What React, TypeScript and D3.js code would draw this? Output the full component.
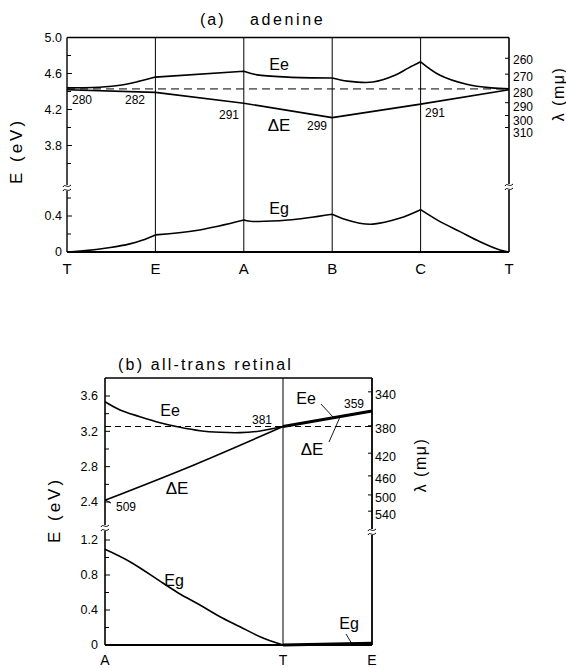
import React from "react";
import * as d3 from "d3";

// ---------- (a) adenine ----------
const topCats = ["T", "E", "A", "B", "C", "T"];
const topYTicksUpper = [5.0, 4.6, 4.2, 3.8];
const topYMinorUpper = [4.8, 4.4, 4.0, 3.6];
const topYTicksLower = [0.4, 0];
const topYMinorLower = [0.2, 0.6];
const topLambdaTicks = [260, 270, 280, 290, 300, 310];
const topDashedLambda = 280;
// segments between symmetry points: [x (category units), E (eV)]
const topEe: [number, number][][] = [
  [[0, 4.44], [0.4, 4.45], [0.6, 4.47], [0.8, 4.51], [1, 4.56]],
  [[1, 4.56], [2, 4.625]],
  [[2, 4.625], [2.15, 4.585], [2.5, 4.56], [3, 4.55]],
  [[3, 4.55], [3.17, 4.515], [3.46, 4.505], [3.71, 4.58], [3.86, 4.66], [4, 4.73]],
  [[4, 4.73], [4.22, 4.58], [4.52, 4.48], [4.8, 4.44], [5, 4.43]],
];
const topDE: [number, number][][] = [
  [[0, 4.42], [1, 4.39]],
  [[1, 4.39], [2, 4.27]],
  [[2, 4.27], [3, 4.11]],
  [[3, 4.11], [4, 4.26]],
  [[4, 4.26], [5, 4.42]],
];
const topEg: [number, number][][] = [
  [[0, 0], [0.15, 0.01], [0.49, 0.05], [0.71, 0.09], [0.85, 0.13], [1, 0.19]],
  [[1, 0.19], [1.5, 0.245], [2, 0.355]],
  [[2, 0.355], [2.07, 0.342], [2.5, 0.355], [3, 0.42]],
  [[3, 0.42], [3.15, 0.36], [3.31, 0.32], [3.46, 0.31], [3.76, 0.374], [4, 0.47]],
  [[4, 0.47], [4.22, 0.337], [4.446, 0.226], [4.672, 0.114], [4.898, 0.022], [5, 0]],
];
const topLabels = ["280", "282", "291", "299", "291"];

// ---------- (b) all-trans retinal ----------
const botCats = ["A", "T", "E"];
const botCatPos = [0, 2, 3];
const botYTicksUpper = [3.6, 3.2, 2.8, 2.4];
const botYMinorUpper = [3.4, 3.0, 2.6];
const botYTicksLower = [1.2, 0.8, 0.4, 0];
const botYMinorLower = [1.0, 0.6, 0.2];
const botLambdaTicks = [340, 380, 420, 460, 500, 540];
const botDashedLambda = 381;
const botEe: [number, number][][] = [
  [
    [0, 3.535], [0.169, 3.442], [0.393, 3.366], [0.618, 3.298], [0.843, 3.246],
    [1.067, 3.207], [1.292, 3.189], [1.517, 3.185], [1.742, 3.204], [2, 3.255],
  ],
  [[2, 3.255], [3, 3.43]],
];
const botDE: [number, number][][] = [
  [[0, 2.42], [1, 2.82], [2, 3.255]],
  [[2, 3.255], [3, 3.43]],
];
const botEg: [number, number][][] = [
  [
    [0, 1.094], [0.28, 0.952], [0.65, 0.709], [0.843, 0.583], [1.067, 0.457],
    [1.292, 0.323], [1.517, 0.209], [1.742, 0.095], [2, 0],
  ],
  [[2, 0], [3, 0.02]],
];
const botLabels = ["509", "381", "359"];

const FONT = "'Liberation Sans', Arial, sans-serif";

function segPath(segs: [number, number][][], x: (v: number) => number, y: (v: number) => number) {
  const line = d3
    .line<[number, number]>()
    .x((d) => x(d[0]))
    .y((d) => y(d[1]))
    .curve(d3.curveCatmullRom.alpha(0.5));
  return segs.map((s) => line(s)).join("");
}

function Break({ x, y }: { x: number; y: number }) {
  const w = (dy: number) =>
    `M${x - 4},${y + dy + 1} C${x - 2},${y + dy - 3} ${x},${y + dy + 3} ${x + 4},${y + dy - 1}`;
  return (
    <g>
      <rect x={x - 4} y={y - 3} width={8} height={6} fill="white" />
      <path d={w(-2)} fill="none" stroke="black" strokeWidth={1} />
      <path d={w(2)} fill="none" stroke="black" strokeWidth={1} />
    </g>
  );
}

export default function App() {
  // ---- top scales ----
  const tx = d3.scaleLinear().domain([0, 5]).range([67, 509]);
  const tyU = d3.scaleLinear().domain([5.0, 3.8]).range([37.5, 145.5]);
  const tyL = d3.scaleLinear().domain([0, 0.4]).range([252, 216]);
  const tTop = 37.5;
  const tBot = 252;
  const tL = tx(0);
  const tR = tx(5);

  // ---- bottom scales ----
  const bx = d3.scaleLinear().domain([0, 3]).range([105, 372]);
  const byU = d3.scaleLinear().domain([3.6, 2.4]).range([396, 502]);
  const byL = d3.scaleLinear().domain([0, 1.2]).range([645, 540]);
  const bTop = 378;
  const bBot = 645;
  const bL = bx(0);
  const bR = bx(3);

  const tLam = (l: number) => tyU(1240 / l);
  const bLam = (l: number) => byU(1240 / l);

  return (
    <svg
      width={566}
      height={668}
      style={{ position: "absolute", left: 0, top: 0, background: "white" }}
      fontFamily={FONT}
    >
      {/* ================= (a) adenine ================= */}
      <text x={200} y={25} fontSize={16} letterSpacing={2}>(a)</text>
      <text x={250} y={25} fontSize={16} letterSpacing={2.6}>adenine</text>
      {[1, 2, 3, 4].map((i) => (
        <line key={i} x1={tx(i)} x2={tx(i)} y1={tTop} y2={tBot} stroke="black" strokeWidth={1} />
      ))}
      <line x1={tL} x2={tR} y1={tTop} y2={tTop} stroke="black" strokeWidth={1.6} />
      <line x1={tL} x2={tR} y1={tBot} y2={tBot} stroke="black" strokeWidth={2} />
      <line x1={tL} x2={tL} y1={tTop} y2={tBot} stroke="black" strokeWidth={1.4} />
      <line x1={tR} x2={tR} y1={tTop} y2={tBot} stroke="black" strokeWidth={1.6} />
      {topYTicksUpper.map((v) => (
        <g key={"tu" + v}>
          <line x1={tL} x2={tL + 5} y1={tyU(v)} y2={tyU(v)} stroke="black" />
          <text x={62} y={tyU(v)} dy="0.35em" fontSize={12.5} textAnchor="end">
            {v.toFixed(1)}
          </text>
        </g>
      ))}
      {topYMinorUpper.map((v) => (
        <line key={"tmu" + v} x1={tL} x2={tL + 4} y1={tyU(v)} y2={tyU(v)} stroke="black" />
      ))}
      {topYTicksLower.map((v) => (
        <g key={"tl" + v}>
          <line x1={tL} x2={tL + 5} y1={tyL(v)} y2={tyL(v)} stroke="black" />
          <text x={62} y={tyL(v)} dy="0.35em" fontSize={12.5} textAnchor="end">
            {v === 0 ? "0" : v.toFixed(1)}
          </text>
        </g>
      ))}
      {topYMinorLower.map((v) => (
        <line key={"tml" + v} x1={tL} x2={tL + 4} y1={tyL(v)} y2={tyL(v)} stroke="black" />
      ))}
      {topLambdaTicks.map((l) => (
        <g key={"tlam" + l}>
          <line x1={tR - 4} x2={tR} y1={tLam(l)} y2={tLam(l)} stroke="black" />
          <text x={513} y={tLam(l) + 2 + (l - 260) * 0.07} dy="0.35em" fontSize={12}>
            {l}
          </text>
        </g>
      ))}
      <Break x={tL} y={188} />
      <Break x={tR} y={187} />
      <text transform="translate(22,151) rotate(-90)" fontSize={17} textAnchor="middle" letterSpacing={3}>
        E (eV)
      </text>
      <text transform="translate(564,94) rotate(-90)" fontSize={16} textAnchor="middle" letterSpacing={1.5}>
        λ (mμ)
      </text>
      {topCats.map((c, i) => (
        <text key={"tc" + i} x={tx(i)} y={274} fontSize={15} textAnchor="middle">
          {c}
        </text>
      ))}
      <line
        x1={tL}
        x2={tR}
        y1={tLam(topDashedLambda)}
        y2={tLam(topDashedLambda)}
        stroke="black"
        strokeWidth={1}
        strokeDasharray="8,5"
      />
      <path d={segPath(topEe, tx, tyU)} fill="none" stroke="black" strokeWidth={1.6} />
      <path d={segPath(topDE, tx, tyU)} fill="none" stroke="black" strokeWidth={1.6} />
      <path d={segPath(topEg, tx, tyL)} fill="none" stroke="black" strokeWidth={1.6} />
      <text x={279} y={70} fontSize={16} textAnchor="middle">Ee</text>
      <text x={279} y={131} fontSize={17} textAnchor="middle">ΔE</text>
      <text x={279} y={214} fontSize={16} textAnchor="middle">Eg</text>
      <text x={82} y={104} fontSize={12} textAnchor="middle">{topLabels[0]}</text>
      <text x={135} y={104} fontSize={12} textAnchor="middle">{topLabels[1]}</text>
      <text x={229} y={119} fontSize={12} textAnchor="middle">{topLabels[2]}</text>
      <text x={317} y={130} fontSize={12} textAnchor="middle">{topLabels[3]}</text>
      <text x={435} y={117} fontSize={12} textAnchor="middle">{topLabels[4]}</text>

      {/* ================= (b) all-trans retinal ================= */}
      <text x={118} y={370} fontSize={16} letterSpacing={2.2}>
        (b) all-trans retinal
      </text>
      <line x1={bx(2)} x2={bx(2)} y1={bTop} y2={bBot} stroke="black" strokeWidth={1} />
      <line x1={bL} x2={bR} y1={bTop} y2={bTop} stroke="black" strokeWidth={1.4} />
      <line x1={bL} x2={bR} y1={bBot} y2={bBot} stroke="black" strokeWidth={2} />
      <line x1={bL} x2={bL} y1={bTop} y2={bBot} stroke="black" strokeWidth={1.6} />
      <line x1={bR} x2={bR} y1={bTop} y2={bBot} stroke="black" strokeWidth={1.8} />
      {botYTicksUpper.map((v) => (
        <g key={"bu" + v}>
          <line x1={bL} x2={bL + 5} y1={byU(v)} y2={byU(v)} stroke="black" />
          <text x={98} y={byU(v)} dy="0.35em" fontSize={12.5} textAnchor="end">
            {v.toFixed(1)}
          </text>
        </g>
      ))}
      {botYMinorUpper.map((v) => (
        <line key={"bmu" + v} x1={bL} x2={bL + 4} y1={byU(v)} y2={byU(v)} stroke="black" />
      ))}
      {botYTicksLower.map((v) => (
        <g key={"bl" + v}>
          <line x1={bL} x2={bL + 5} y1={byL(v)} y2={byL(v)} stroke="black" />
          <text x={98} y={byL(v)} dy="0.35em" fontSize={12.5} textAnchor="end">
            {v === 0 ? "0" : v.toFixed(1)}
          </text>
        </g>
      ))}
      {botYMinorLower.map((v) => (
        <line key={"bml" + v} x1={bL} x2={bL + 4} y1={byL(v)} y2={byL(v)} stroke="black" />
      ))}
      {botLambdaTicks.map((l) => (
        <g key={"blam" + l}>
          <line x1={bR - 4} x2={bR} y1={bLam(l)} y2={bLam(l)} stroke="black" />
          <text x={375} y={bLam(l) + 3} dy="0.35em" fontSize={12.5}>
            {l}
          </text>
        </g>
      ))}
      <Break x={bL} y={528} />
      <Break x={bR} y={532} />
      <text transform="translate(60,510) rotate(-90)" fontSize={17} textAnchor="middle" letterSpacing={3}>
        E (eV)
      </text>
      <text transform="translate(426,465) rotate(-90)" fontSize={16} textAnchor="middle" letterSpacing={1.5}>
        λ (mμ)
      </text>
      {botCats.map((c, i) => (
        <text key={"bc" + i} x={bx(botCatPos[i])} y={665} fontSize={14} textAnchor="middle">
          {c}
        </text>
      ))}
      <line
        x1={bL}
        x2={bR}
        y1={bLam(botDashedLambda)}
        y2={bLam(botDashedLambda)}
        stroke="black"
        strokeWidth={1}
        strokeDasharray="6,4"
      />
      <path d={segPath(botEe, bx, byU)} fill="none" stroke="black" strokeWidth={1.6} />
      <path d={segPath(botDE, bx, byU)} fill="none" stroke="black" strokeWidth={1.6} />
      <path d={segPath([botDE[1]], bx, byU)} fill="none" stroke="black" strokeWidth={3} />
      <path d={segPath(botEg, bx, byL)} fill="none" stroke="black" strokeWidth={1.6} />
      <path d={segPath([botEg[1]], bx, byL)} fill="none" stroke="black" strokeWidth={3} />
      <text x={170} y={416} fontSize={16} textAnchor="middle">Ee</text>
      <text x={177} y={494} fontSize={17} textAnchor="middle">ΔE</text>
      <text x={174} y={586} fontSize={16} textAnchor="middle">Eg</text>
      <text x={126} y={511} fontSize={12} textAnchor="middle">{botLabels[0]}</text>
      <line x1={bL} x2={bL + 6} y1={500} y2={503} stroke="black" />
      <text x={262} y={424} fontSize={12} textAnchor="middle">{botLabels[1]}</text>
      <text x={354} y={408} fontSize={12} textAnchor="middle">{botLabels[2]}</text>
      <text x={306} y={404} fontSize={16} textAnchor="middle">Ee</text>
      <line x1={321} x2={333} y1={404} y2={417} stroke="black" strokeWidth={0.9} />
      <text x={312} y={455} fontSize={17} textAnchor="middle">ΔE</text>
      <line x1={329} x2={340} y1={442} y2={417} stroke="black" strokeWidth={0.9} />
      <text x={349} y={629} fontSize={16} textAnchor="middle">Eg</text>
      <line x1={346} x2={352} y1={634} y2={644} stroke="black" strokeWidth={0.9} />
    </svg>
  );
}
